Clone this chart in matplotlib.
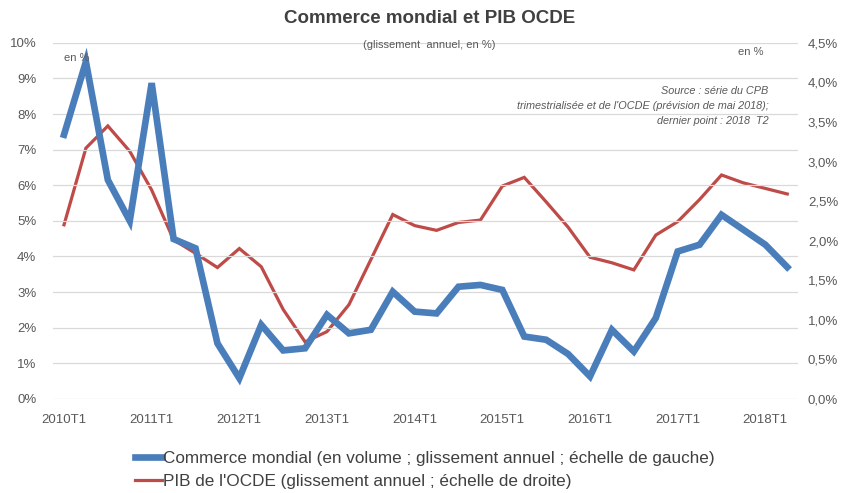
import matplotlib
matplotlib.use("Agg")
import matplotlib.pyplot as plt
from matplotlib.lines import Line2D
from matplotlib.ticker import FuncFormatter

plt.rcParams["font.family"] = ["Liberation Sans", "DejaVu Sans"]

# quarterly, 2010T1 .. 2018T2
quarters = [f"{y}T{q}" for y in range(2010, 2019) for q in range(1, 5)][:34]

# world trade, volume, y/y % (left scale)
commerce = [7.42, 9.47, 6.15, 5.0, 8.87, 4.49, 4.23, 1.56, 0.58, 2.08,
            1.36, 1.42, 2.36, 1.84, 1.94, 3.01, 2.45, 2.40, 3.15, 3.2,
            3.06, 1.75, 1.66, 1.26, 0.63, 1.94, 1.33, 2.27, 4.14, 4.33,
            5.17, 4.75, 4.33, 3.7]

# OECD GDP, y/y % (right scale)
pib = [2.2, 3.17, 3.45, 3.13, 2.64, 2.01, 1.84, 1.66, 1.9, 1.67,
       1.13, 0.72, 0.85, 1.19, 1.76, 2.33, 2.19, 2.13, 2.23, 2.26,
       2.69, 2.8, 2.49, 2.17, 1.79, 1.72, 1.63, 2.07, 2.24, 2.52,
       2.83, 2.73, 2.66, 2.59]

blue = "#4A7EBB"
red = "#BE4B48"
grey = "#595959"

fig = plt.figure(figsize=(8.42, 4.93), dpi=100)
ax = fig.add_axes([0.063, 0.191, 0.885, 0.722])
ax2 = ax.twinx()

x = list(range(len(quarters)))
ax.plot(x, commerce, color=blue, linewidth=4.8, solid_joinstyle="miter", zorder=3)
ax2.plot(x, pib, color=red, linewidth=2.3, solid_joinstyle="miter", zorder=3)

ax.set_xlim(-0.5, len(quarters) - 0.5)
ax.set_ylim(0, 10)
ax2.set_ylim(0, 4.5)
ax.set_yticks(range(0, 11))
ax2.set_yticks([i * 0.5 for i in range(10)])
ax.yaxis.set_major_formatter(FuncFormatter(lambda v, _: f"{v:.0f}%"))
ax2.yaxis.set_major_formatter(FuncFormatter(lambda v, _: f"{v:.1f}%".replace(".", ",")))
ax.set_xticks(x[::4])
ax.set_xticklabels(quarters[::4])

ax.grid(axis="y", color="#D9D9D9", linewidth=0.9)
ax.set_axisbelow(True)
for a in (ax, ax2):
    for s in a.spines.values():
        s.set_visible(False)
    a.tick_params(length=0, labelsize=9.5, labelcolor=grey)
ax.tick_params(axis="y", pad=12)
ax2.tick_params(axis="y", pad=7)
ax.tick_params(axis="x", pad=11)
ax.set_zorder(ax2.get_zorder() + 1)
ax.patch.set_visible(False)

fig.text(0.51, 0.963, "Commerce mondial et PIB OCDE", ha="center", va="center",
         fontsize=13.5, fontweight="bold", color="#404040")
fig.text(0.51, 0.908, "(glissement  annuel, en %)", ha="center", va="center",
         fontsize=8, color=grey)
fig.text(0.076, 0.882, "en %", ha="left", va="center", fontsize=8, color=grey)
fig.text(0.876, 0.894, "en %", ha="left", va="center", fontsize=8, color=grey)
fig.text(0.913, 0.826,
         "Source : série du CPB\n"
         "trimestrialisée et de l'OCDE (prévision de mai 2018);\n"
         "dernier point : 2018  T2",
         ha="right", va="top", fontsize=7.8, style="italic", color=grey,
         linespacing=1.65)

handles = [Line2D([], [], color=blue, linewidth=4.8),
           Line2D([], [], color=red, linewidth=2.3)]
labels = ["Commerce mondial (en volume ; glissement annuel ; échelle de gauche)",
          "PIB de l'OCDE (glissement annuel ; échelle de droite)"]
fig.legend(handles, labels, loc="upper left", bbox_to_anchor=(0.16, 0.086),
           frameon=False, fontsize=12.3, handlelength=1.6, handletextpad=0.05,
           labelspacing=0.5, borderaxespad=0, borderpad=0, labelcolor="#404040")

fig.savefig("out.png", dpi=100)
